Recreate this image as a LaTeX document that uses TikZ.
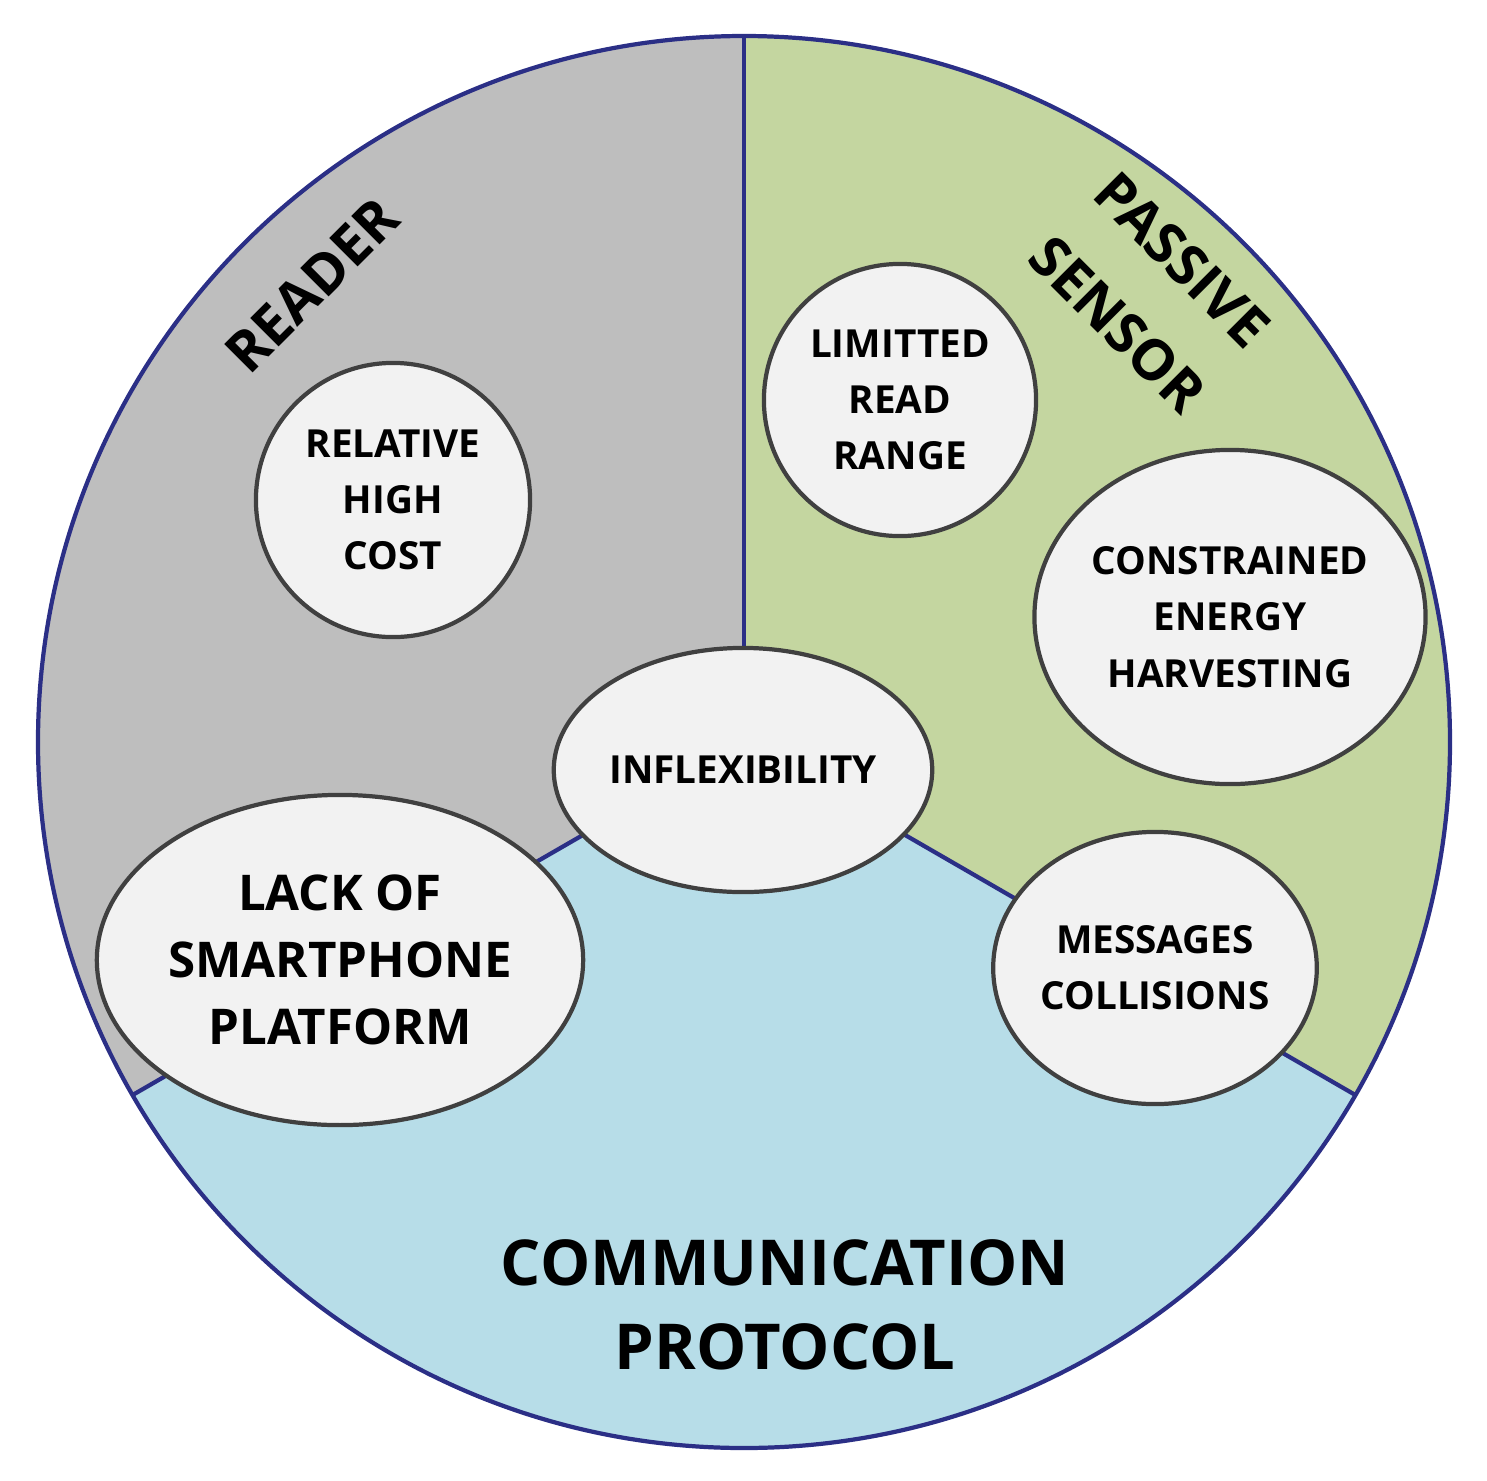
\documentclass[tikz,border=0pt]{standalone}
\usepackage{fontspec}
\setmainfont{Open Sans}
\usetikzlibrary{shapes.geometric}
\definecolor{rgray}{HTML}{BEBEBE}
\definecolor{rgreen}{HTML}{C4D6A0}
\definecolor{rblue}{HTML}{B7DDE8}
\definecolor{rnavy}{HTML}{2B2F86}
\definecolor{rbub}{HTML}{F2F2F2}
\begin{document}
\begin{tikzpicture}[x=0.01cm,y=-0.01cm,
  bub/.style={ellipse,draw=black!75,line width=1.2pt,fill=rbub,inner sep=0pt,align=center,font=\bfseries\fontsize{11}{16}\selectfont},
  sect/.style={draw=rnavy,line width=1.2pt}]
\useasboundingbox (0,0) rectangle (1487,1481);
\coordinate (c) at (744,742);
\coordinate (t) at (744,36);
\coordinate (l) at (132.6,1095);
\coordinate (r) at (1355.4,1095);
\fill[rgray] (c) -- (t) arc[start angle=-90,end angle=-210,radius=706] -- cycle;
\fill[rgreen] (c) -- (t) arc[start angle=-90,end angle=30,radius=706] -- cycle;
\fill[rblue] (c) -- (l) arc[start angle=-210,end angle=-330,radius=706] -- cycle;
\draw[sect] (c) -- (t);
\draw[sect] (c) -- (l);
\draw[sect] (c) -- (r);
\draw[sect] (c) circle[radius=706];
\node[rotate=45,font=\bfseries\fontsize{16}{20}\selectfont] (reader) at (312,285) {READER};
\node[rotate=-45,align=center,font=\bfseries\fontsize{16}{26}\selectfont] (passive) at (1150,292) {PASSIVE\\SENSOR};
\node[align=center,font=\bfseries\fontsize{18}{24}\selectfont] (comm) at (785,1305) {COMMUNICATION\\PROTOCOL};
\node[bub,minimum width=2.74cm,minimum height=2.74cm] (cost) at (393,500) {RELATIVE\\HIGH\\COST};
\node[bub,minimum width=2.72cm,minimum height=2.72cm] (range) at (900,400) {LIMITTED\\READ\\RANGE};
\node[bub,minimum width=3.36cm,minimum height=3.34cm] (energy) at (1230,617) {CONSTRAINED\\ENERGY\\HARVESTING};
\node[bub,minimum width=3.34cm,minimum height=2.44cm] (infl) at (743,770) {INFLEXIBILITY};
\node[bub,minimum width=3.8cm,minimum height=3.3cm,font=\bfseries\fontsize{14}{19}\selectfont] (lack) at (340,960) {LACK OF\\SMARTPHONE\\PLATFORM};
\node[bub,minimum width=2.72cm,minimum height=2.72cm] (msg) at (1155,968) {MESSAGES\\COLLISIONS};
\end{tikzpicture}
\end{document}
